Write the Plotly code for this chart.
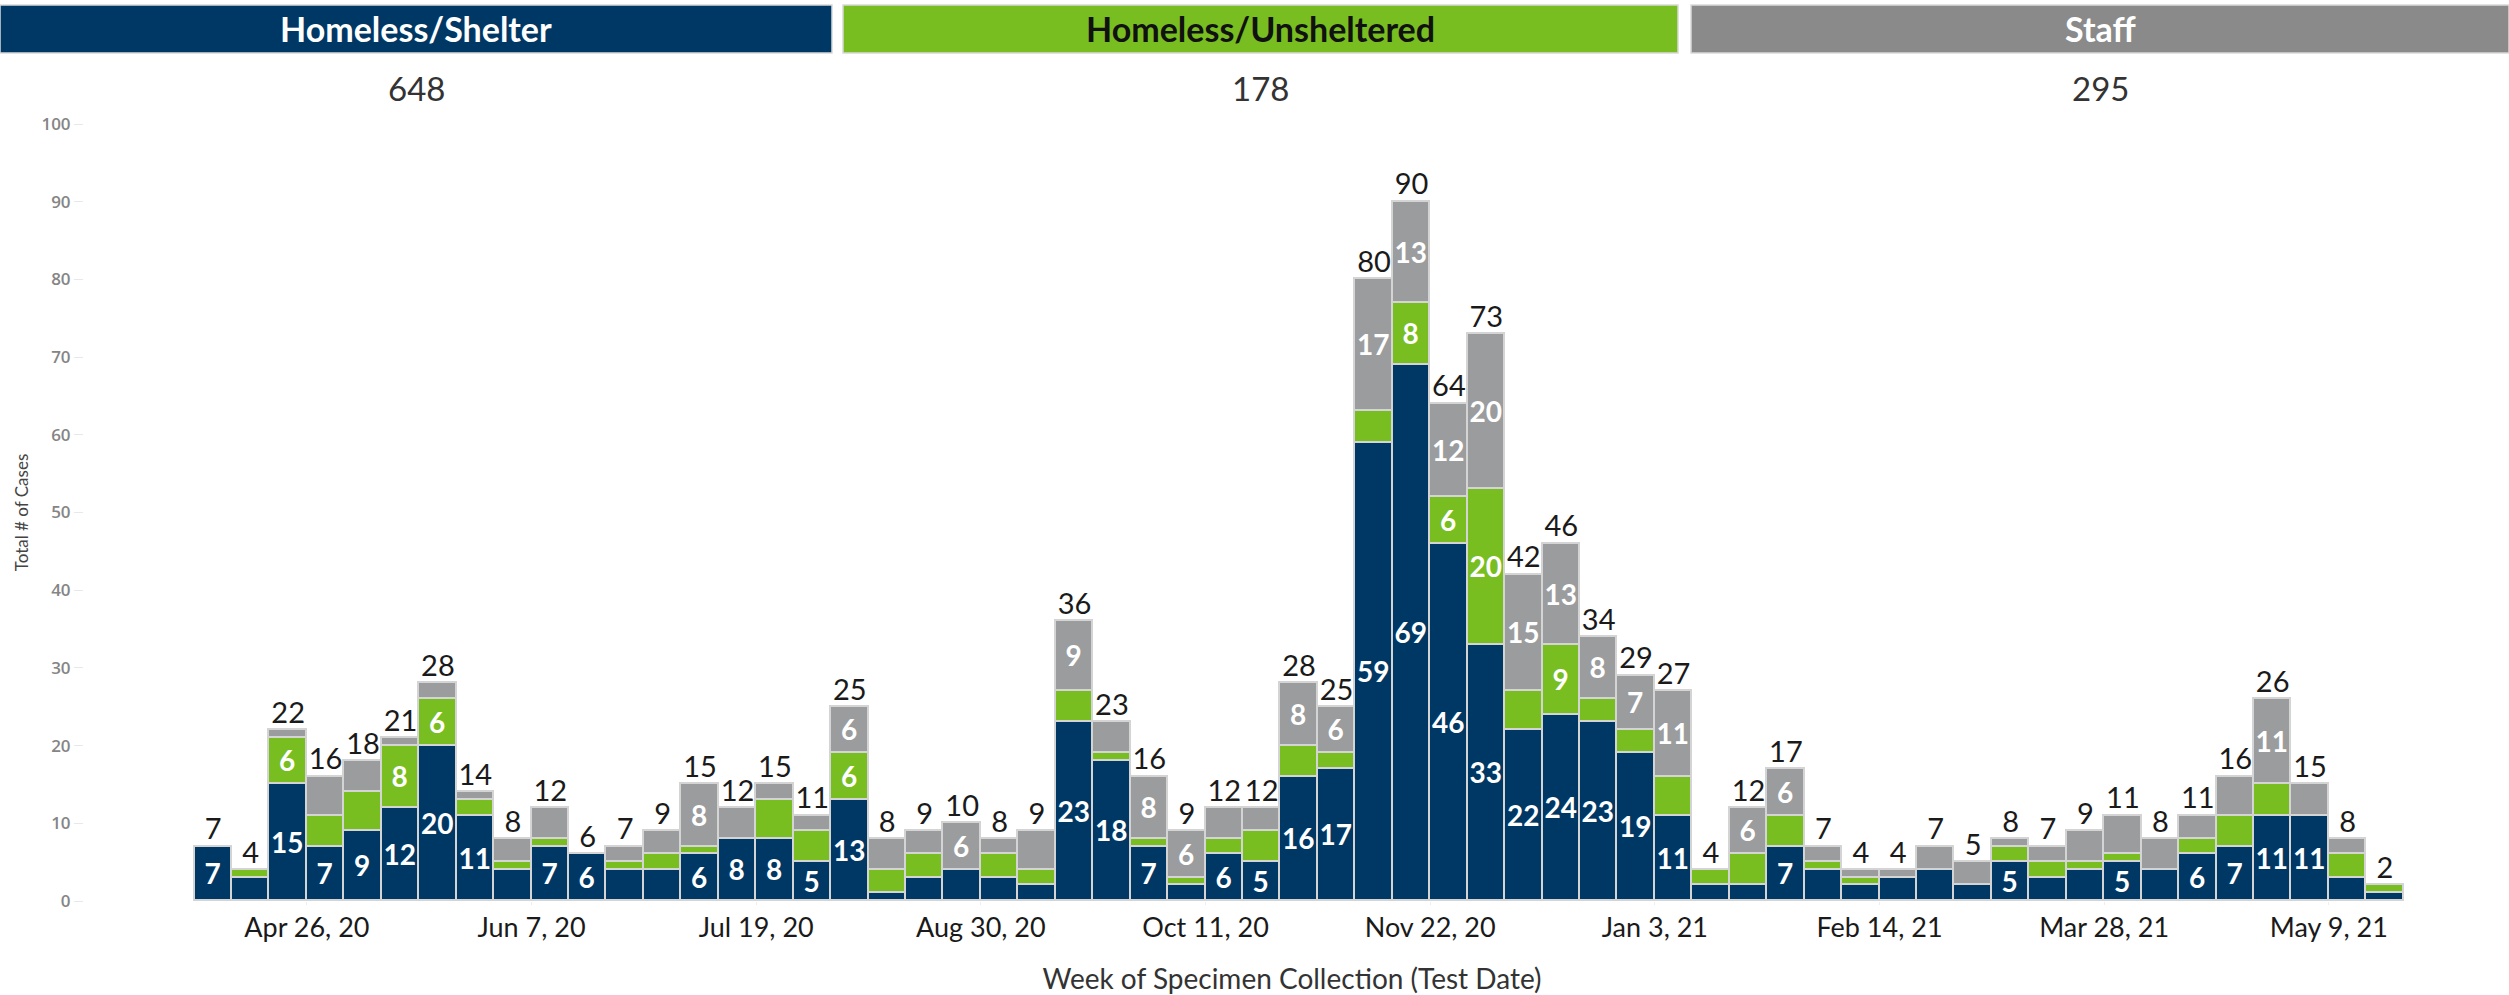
import plotly.graph_objects as go
import pandas as pd

# ---------------- data ----------------
week_start = pd.date_range("2020-04-05", periods=59, freq="7D")

shelter = [7, 3, 15, 7, 9, 12, 20, 11, 4, 7, 6, 4, 4, 6, 8, 8, 5, 13, 1, 3,
           4, 3, 2, 23, 18, 7, 2, 6, 5, 16, 17, 59, 69, 46, 33, 22, 24, 23, 19, 11,
           2, 2, 7, 4, 2, 3, 4, 2, 5, 3, 4, 5, 4, 6, 7, 11, 11, 3, 1]
unsheltered = [0, 1, 6, 4, 5, 8, 6, 2, 1, 1, 0, 1, 2, 1, 0, 5, 4, 6, 3, 3,
               0, 3, 2, 4, 1, 1, 1, 2, 4, 4, 2, 4, 8, 6, 20, 5, 9, 3, 3, 5,
               2, 4, 4, 1, 1, 0, 0, 0, 2, 2, 1, 1, 0, 2, 4, 4, 0, 3, 1]
staff = [0, 0, 1, 5, 4, 1, 2, 1, 3, 4, 0, 2, 3, 8, 4, 2, 2, 6, 4, 3,
         6, 2, 5, 9, 4, 8, 6, 4, 3, 8, 6, 17, 13, 12, 20, 15, 13, 8, 7, 11,
         0, 6, 6, 2, 1, 1, 3, 3, 1, 2, 4, 5, 4, 3, 5, 11, 4, 2, 0]

group_names = ["Homeless/Shelter", "Homeless/Unsheltered", "Staff"]

tick_dates = ["2020-04-26", "2020-06-07", "2020-07-19", "2020-08-30", "2020-10-11",
              "2020-11-22", "2021-01-03", "2021-02-14", "2021-03-28", "2021-05-09"]
tick_labels = ["Apr 26, 20", "Jun 7, 20", "Jul 19, 20", "Aug 30, 20", "Oct 11, 20",
               "Nov 22, 20", "Jan 3, 21", "Feb 14, 21", "Mar 28, 21", "May 9, 21"]
y_ticks = list(range(0, 101, 10))

totals = [a + b + c for a, b, c in zip(shelter, unsheltered, staff)]
group_totals = [sum(shelter), sum(unsheltered), sum(staff)]

# ---------------- style ----------------
NAVY = "#003865"
GREEN = "#78BE20"
GRAY = "#9B9C9E"
HEAD_GRAY = "#8A8A8A"
EDGE = "#D4D4D4"
FONT = "Lato"

W, H = 2509, 995
L, R, T, B = 84, 9, 124, 94
PW, PH = W - L - R, H - T - B


def px_x(px):
    return (px - L) / PW


def px_y(py):
    return (H - B - py) / PH


WEEK_MS = 7 * 24 * 3600 * 1000

fig = go.Figure()

series = [
    (shelter, NAVY, 5, group_names[0]),
    (unsheltered, GREEN, 6, group_names[1]),
    (staff, GRAY, 6, group_names[2]),
]
for vals, color, thr, name in series:
    fig.add_trace(go.Bar(
        x=week_start, y=vals, name=name,
        xperiod=WEEK_MS, xperiodalignment="middle",
        marker=dict(color=color, line=dict(color=EDGE, width=1.6)),
        text=[str(v) if v >= thr else "" for v in vals],
        textposition="inside", insidetextanchor="middle", textangle=0,
        textfont=dict(family=FONT, size=28, color="white", weight="bold"),
        hovertemplate="%{x}<br>" + name + ": %{y}<extra></extra>",
    ))

fig.add_trace(go.Scatter(
    x=week_start, y=totals, mode="text",
    xperiod=WEEK_MS, xperiodalignment="middle",
    text=[str(t) for t in totals], textposition="top center",
    textfont=dict(family=FONT, size=29, color="#1a1a1a"),
    hoverinfo="skip", showlegend=False,
))

# header bands
bands = [
    (0, 832, NAVY, "white"),
    (843, 1678, GREEN, "#111111"),
    (1691, 2509, HEAD_GRAY, "white"),
]
shapes = []
annotations = []
for (x0, x1, col, tcol), name, tot in zip(bands, group_names, group_totals):
    shapes.append(dict(type="rect", xref="paper", yref="paper",
                       x0=px_x(x0), x1=px_x(x1), y0=px_y(53), y1=px_y(5),
                       fillcolor=col, line=dict(color="#d9d9d9", width=1.5), layer="above"))
    cx = px_x((x0 + x1) / 2)
    annotations.append(dict(xref="paper", yref="paper", x=cx, y=px_y(29),
                            text="<b>" + name + "</b>", showarrow=False,
                            font=dict(family=FONT, size=34, color=tcol),
                            xanchor="center", yanchor="middle"))
    annotations.append(dict(xref="paper", yref="paper", x=cx, y=px_y(88),
                            text=str(tot), showarrow=False,
                            font=dict(family=FONT, size=33, color="#333333"),
                            xanchor="center", yanchor="middle"))

fig.update_layout(
    width=W, height=H,
    margin=dict(l=L, r=R, t=T, b=B, pad=0, autoexpand=False),
    barmode="stack", bargap=0,
    showlegend=False,
    plot_bgcolor="white", paper_bgcolor="white",
    shapes=shapes, annotations=annotations,
    uniformtext=dict(minsize=28, mode="show"),
    font=dict(family=FONT),
)

fig.update_xaxes(
    type="date", automargin=False,
    range=["2020-03-15 08:00", "2021-06-10"],
    tickvals=tick_dates, ticktext=tick_labels,
    tickfont=dict(family=FONT, size=27, color="#1a1a1a"),
    ticks="outside", ticklen=3, tickcolor="#eeeeee",
    showgrid=False, zeroline=False, showline=False,
    title=dict(text="Week of Specimen Collection (Test Date)",
               font=dict(family=FONT, size=28, color="#333333"), standoff=26),
)
fig.update_yaxes(
    range=[0, 100], automargin=False,
    tickvals=y_ticks,
    tickfont=dict(family="Open Sans", size=17, color="#858585", weight=600),
    ticks="outside", ticklen=9, tickcolor="#e8e8e8",
    showgrid=False, zeroline=False, showline=False,
    title=dict(text="Total # of Cases", font=dict(family=FONT, size=17, color="#444444"),
               standoff=8),
)

fig.write_html("out.html",
               config={"displayModeBar": False},
               post_script="document.body.style.margin='0';document.body.style.overflow='hidden';")
